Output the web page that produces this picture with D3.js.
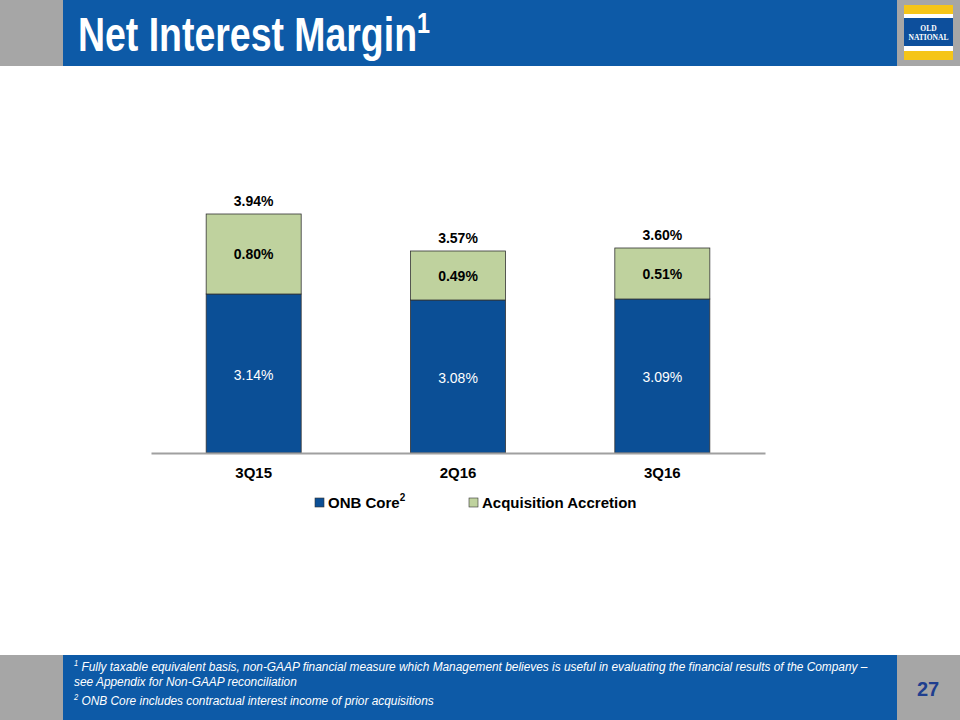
<!DOCTYPE html>
<html><head><meta charset="utf-8">
<script src="https://cdn.jsdelivr.net/npm/d3@7"></script>
<style>body{margin:0;background:#fff}svg{display:block}</style>
</head><body>
<svg id="c" width="960" height="720"></svg>
<script>
const categories = ["3Q15", "2Q16", "3Q16"];
const onbCore = [3.14, 3.08, 3.09];
const accretion = [0.80, 0.49, 0.51];
const totals = [3.94, 3.57, 3.60];
const seriesNames = ["ONB Core", "Acquisition Accretion"];
const colors = {core: "#0b4f96", acc: "#bfd29e", blue: "#0d5aa7", gray: "#a6a6a6"};

const svg = d3.select("#c");
const F = "Liberation Sans, Arial, sans-serif";

// Header banner
svg.append("rect").attr("x",0).attr("y",0).attr("width",960).attr("height",66).attr("fill",colors.gray);
svg.append("rect").attr("x",63).attr("y",0).attr("width",834).attr("height",66).attr("fill",colors.blue);
const t = svg.append("text").attr("transform","translate(78,51) scale(0.78,1)").attr("fill","#fff")
  .attr("font-family",F).attr("font-weight","bold").attr("font-size",48);
t.append("tspan").text("Net Interest Margin");
t.append("tspan").attr("dy",-18).attr("font-size",30).text("1");
// Logo
const lg = svg.append("g").attr("transform","translate(904,5)");
lg.append("rect").attr("width",49).attr("height",55).attr("fill","#fff");
lg.append("rect").attr("y",0).attr("width",49).attr("height",9).attr("fill","#f5c518");
lg.append("rect").attr("y",46).attr("width",49).attr("height",9).attr("fill","#f5c518");
lg.append("rect").attr("y",13).attr("width",49).attr("height",28).attr("fill","#0d4f9c");
lg.append("text").attr("x",24.5).attr("y",26).attr("text-anchor","middle").attr("fill","#fff")
  .attr("font-family","Liberation Serif, serif").attr("font-size",7.5).attr("font-weight","bold").text("OLD");
lg.append("text").attr("x",24.5).attr("y",35).attr("text-anchor","middle").attr("fill","#fff")
  .attr("font-family","Liberation Serif, serif").attr("font-size",7.5).attr("font-weight","bold").text("NATIONAL");

// Footer banner
svg.append("rect").attr("x",0).attr("y",655).attr("width",960).attr("height",65).attr("fill",colors.gray);
svg.append("rect").attr("x",63).attr("y",655).attr("width",834).attr("height",65).attr("fill",colors.blue);
function footLine(yy, sup, txt){
  const tx = svg.append("text").attr("transform",`translate(74,${yy}) scale(0.88,1)`).attr("fill","#fff")
    .attr("font-family",F).attr("font-style","italic").attr("font-size",13.5);
  if(sup){ tx.append("tspan").attr("font-size",8.5).attr("dy",-5).text(sup); tx.append("tspan").attr("dy",5).text(" "+txt); }
  else tx.append("tspan").text(txt);
}
footLine(671,"1","Fully taxable equivalent basis, non-GAAP financial measure which Management believes is useful in evaluating the financial results of the Company –");
footLine(686,null,"see Appendix for Non-GAAP reconciliation");
footLine(705,"2","ONB Core includes contractual interest income of prior acquisitions");
svg.append("text").attr("x",928).attr("y",696).attr("text-anchor","middle").attr("fill","#1f3f8f")
  .attr("font-family",F).attr("font-weight","bold").attr("font-size",20).text("27");

// Chart
const x = d3.scaleBand().domain(categories).range([151,765]).paddingInner(0.535).paddingOuter(0.27);
const y = d3.scaleLinear().domain([1.55, 4.0]).range([453, 208]);
const base = y(1.55);
const g = svg.append("g");
categories.forEach((c,i)=>{
  const x0 = x(c), w = x.bandwidth();
  const yc = y(onbCore[i]), yt = y(onbCore[i]+accretion[i]);
  g.append("rect").attr("x",x0).attr("y",yc).attr("width",w).attr("height",base-yc)
    .attr("fill",colors.core).attr("stroke","#333").attr("stroke-width",0.8);
  g.append("rect").attr("x",x0).attr("y",yt).attr("width",w).attr("height",yc-yt)
    .attr("fill",colors.acc).attr("stroke","#333").attr("stroke-width",0.8);
  g.append("text").attr("x",x0+w/2).attr("y",(yc+base)/2+6).attr("text-anchor","middle")
    .attr("fill","#fff").attr("font-family",F).attr("font-size",14).text(onbCore[i].toFixed(2)+"%");
  g.append("text").attr("x",x0+w/2).attr("y",(yc+yt)/2+5).attr("text-anchor","middle")
    .attr("fill","#000").attr("font-family",F).attr("font-weight","bold").attr("font-size",14).text(accretion[i].toFixed(2)+"%");
  g.append("text").attr("x",x0+w/2).attr("y",y(totals[i])-8).attr("text-anchor","middle")
    .attr("fill","#000").attr("font-family",F).attr("font-weight","bold").attr("font-size",14).text(totals[i].toFixed(2)+"%");
});
const ax = svg.append("g").attr("transform",`translate(0,${base})`).call(d3.axisBottom(x).tickSize(0).tickPadding(14));
ax.select(".domain").attr("stroke","#a0a0a0").attr("stroke-width",2);
ax.selectAll("text").attr("font-family",F).attr("font-weight","bold").attr("font-size",15).attr("fill","#000");

// Legend
const leg = svg.append("g");
const items = [{n:seriesNames[0],c:colors.core,x:315,sup:"2"},{n:seriesNames[1],c:colors.acc,x:469}];
items.forEach(it=>{
  leg.append("rect").attr("x",it.x).attr("y",498).attr("width",9).attr("height",9)
    .attr("fill",it.c).attr("stroke","#333").attr("stroke-width",0.6);
  const tx = leg.append("text").attr("x",it.x+13).attr("y",508).attr("font-family",F)
    .attr("font-weight","bold").attr("font-size",15).attr("fill","#000");
  tx.append("tspan").text(it.n);
  if(it.sup) tx.append("tspan").attr("dy",-7).attr("font-size",10).text(it.sup);
});
</script>
</body></html>
